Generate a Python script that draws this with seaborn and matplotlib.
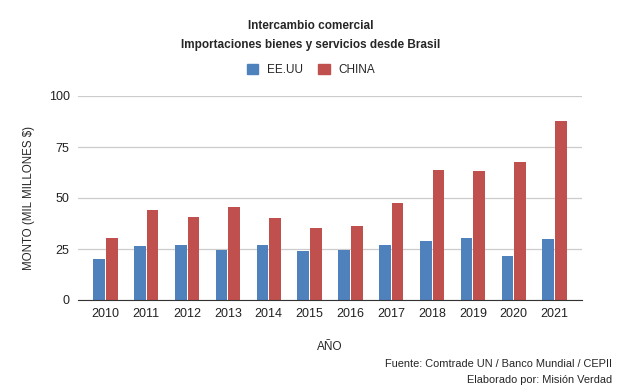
import numpy as np
import pandas as pd
import matplotlib.pyplot as plt
import seaborn as sns

years = [2010, 2011, 2012, 2013, 2014, 2015, 2016, 2017, 2018, 2019, 2020, 2021]
eeuu = [20.0, 26.5, 27.0, 24.5, 27.0, 24.0, 24.5, 27.0, 28.9, 30.4, 21.6, 29.9]
china = [30.2, 44.1, 40.8, 45.6, 40.2, 35.3, 36.3, 47.5, 63.7, 63.2, 67.6, 87.7]
series = ["EE.UU", "CHINA"]
colores = ["#4f81bd", "#c0504d"]

sns.set_style("white")
plt.rcParams['font.family'] = ['Liberation Sans', 'DejaVu Sans']

data = pd.DataFrame({
    'Año': [str(y) for y in years] * 2,
    'Monto': eeuu + china,
    'Serie': [series[0]] * len(years) + [series[1]] * len(years)
})

fig = plt.figure(figsize=(6.22, 3.92), dpi=100)
ax = fig.add_axes([78 / 622, 1 - 300 / 392, (582 - 78) / 622, (300 - 96) / 392])

sns.barplot(data=data, x='Año', y='Monto', hue='Serie', palette=colores,
            width=0.62, gap=0.08, linewidth=0, saturation=1,
            ax=ax, legend=False, zorder=3)

ax.set_xlim(-0.67, 11.67)
ax.set_ylim(0, 100)
ax.set_yticks([0, 25, 50, 75, 100])
ax.grid(axis='y', color='#cccccc', linewidth=0.9, zorder=0)
for s in ['top', 'right', 'left']:
    ax.spines[s].set_visible(False)
ax.spines['bottom'].set_color('#333333')
ax.spines['bottom'].set_zorder(4)
ax.tick_params(axis='both', length=0, labelsize=9, colors='#222222', pad=6)
ax.set_xlabel('AÑO', fontsize=8.5, labelpad=15)
ax.set_ylabel('MONTO (MIL MILLONES $)', fontsize=8.3, labelpad=10)

# título
fig.text(0.5, 1 - 26 / 392, 'Intercambio comercial', ha='center', va='center',
         fontsize=8.5, fontweight='bold')
fig.text(0.5, 1 - 45 / 392, 'Importaciones bienes y servicios desde Brasil',
         ha='center', va='center', fontsize=8.5, fontweight='bold')

# leyenda
handles = [plt.Rectangle((0, 0), 1, 1, color=c) for c in colores]
fig.legend(handles, series, loc='center', bbox_to_anchor=(0.5, 1 - 70 / 392),
           ncol=2, frameon=False, fontsize=8.5, handlelength=0.95, handleheight=0.95,
           columnspacing=1.3, handletextpad=0.75)

# fuente
fig.text(612 / 622, 1 - 364 / 392, 'Fuente: Comtrade UN / Banco Mundial / CEPII',
         ha='right', va='center', fontsize=7.9)
fig.text(612 / 622, 1 - 380 / 392, 'Elaborado por: Misión Verdad',
         ha='right', va='center', fontsize=7.9)

plt.savefig('out.png', dpi=100)
